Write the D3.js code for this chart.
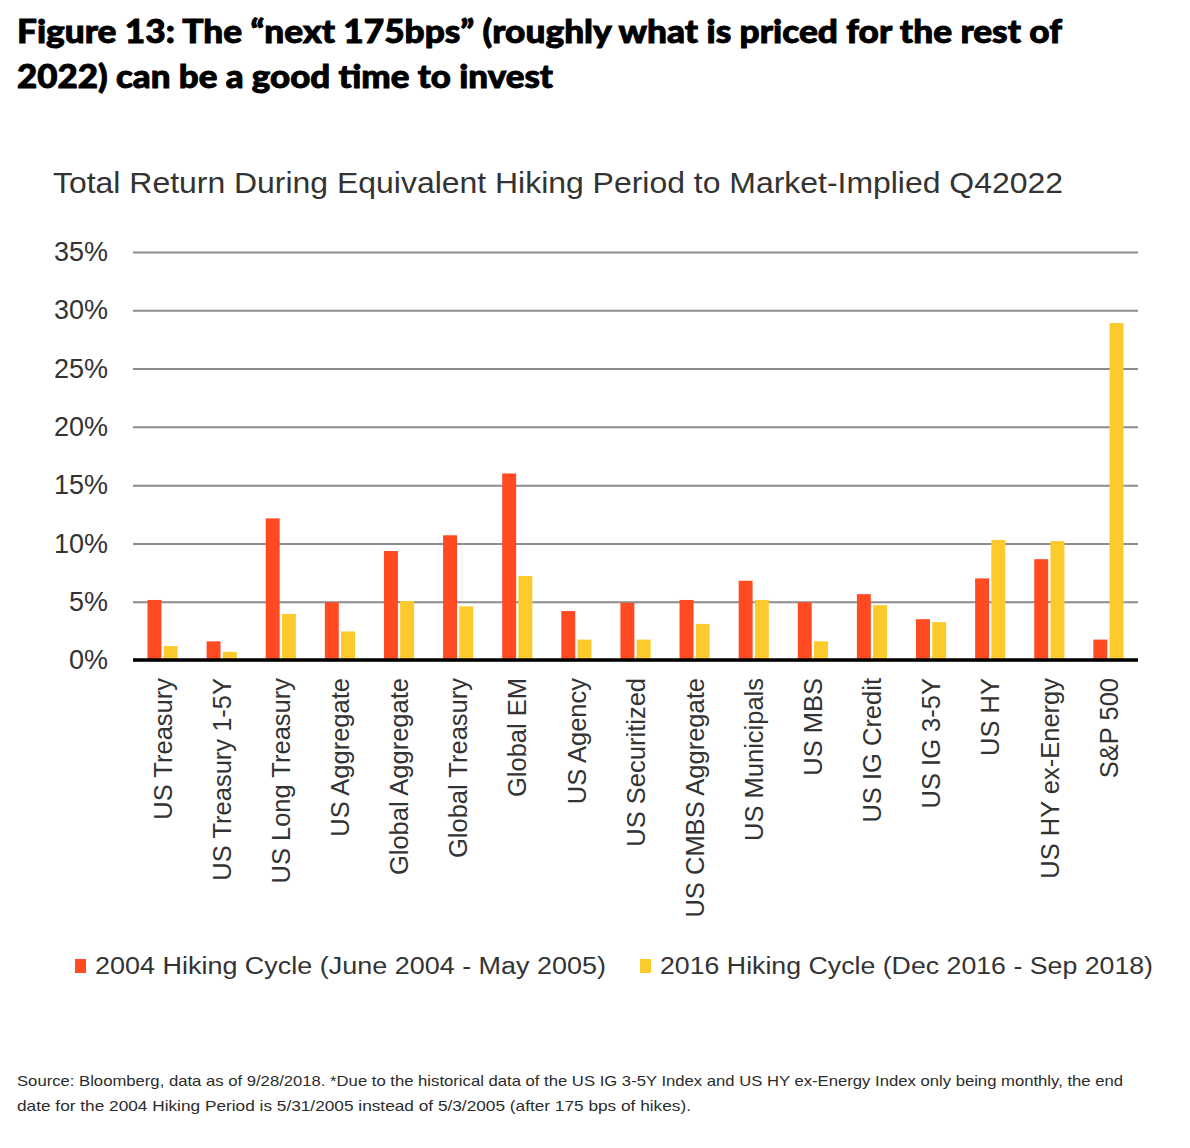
<!DOCTYPE html>
<html>
<head>
<meta charset="utf-8">
<script src="https://cdn.jsdelivr.net/npm/d3@7"></script>
<style>
  body { margin: 0; background: #fff; }
  svg { display: block; }
</style>
</head>
<body>
<svg id="chart" width="1190" height="1148"></svg>
<script>
const categories = ["US Treasury", "US Treasury 1-5Y", "US Long Treasury", "US Aggregate",
    "Global Aggregate", "Global Treasury", "Global EM", "US Agency", "US Securitized",
    "US CMBS Aggregate", "US Municipals", "US MBS", "US IG Credit", "US IG 3-5Y",
    "US HY", "US HY ex-Energy", "S&P 500"];
const cycle2004 = [5.15, 1.6, 12.15, 4.95, 9.35, 10.7, 16.0, 4.2, 4.9, 5.15, 6.8, 4.95, 5.65, 3.5, 7.0, 8.65, 1.75];
const cycle2016 = [1.2, 0.7, 3.95, 2.45, 5.05, 4.6, 7.2, 1.75, 1.75, 3.1, 5.15, 1.6, 4.7, 3.25, 10.3, 10.2, 28.9];
const seriesNames = ["2004 Hiking Cycle (June 2004 - May 2005)", "2016 Hiking Cycle (Dec 2016 - Sep 2018)"];
const seriesColors = ["#ff4a22", "#fcca2c"];
const yTicks = [0, 5, 10, 15, 20, 25, 30, 35];

const svg = d3.select("#chart");
const textColor = "#2b2b2b";

// heading
const heading = ["Figure 13: The \u201cnext 175bps\u201d (roughly what is priced for the rest of",
    "2022) can be a good time to invest"];
const headingW = [1045, 536];
svg.selectAll(".heading")
    .data(heading)
    .enter().append("text")
    .attr("class", "heading")
    .attr("x", 17)
    .attr("y", (d, i) => 43 + i * 45)
    .attr("textLength", (d, i) => headingW[i])
    .attr("lengthAdjust", "spacingAndGlyphs")
    .style("font-family", "'Lato Black', Lato, sans-serif")
    .style("font-weight", 900)
    .style("font-size", "32px")
    .style("fill", "#000")
    .style("stroke", "#000")
    .style("stroke-width", 0.9)
    .text(d => d);

// chart title
svg.append("text")
    .attr("x", 53)
    .attr("y", 193)
    .attr("textLength", 1010)
    .attr("lengthAdjust", "spacingAndGlyphs")
    .style("font-family", "'Liberation Sans', Arial, sans-serif")
    .style("font-size", "30px")
    .style("fill", "#333")
    .text("Total Return During Equivalent Hiking Period to Market-Implied Q42022");

const x0 = d3.scaleBand()
    .domain(categories)
    .range([133, 1138])
    .paddingInner(0.49)
    .paddingOuter(0.245);

const x1 = d3.scaleBand()
    .domain([0, 1])
    .range([0, x0.bandwidth()])
    .paddingInner(0.14);

const y = d3.scaleLinear()
    .domain([0, 35])
    .range([660, 252]);

// grid
const yAxis = d3.axisLeft(y)
    .tickValues(yTicks)
    .tickSize(-(1138 - 133))
    .tickPadding(24)
    .tickFormat(d => d + "%");

const gy = svg.append("g")
    .attr("transform", "translate(133,0)")
    .call(yAxis);
gy.select(".domain").remove();
gy.selectAll(".tick line")
    .attr("stroke", "#8c8c8c")
    .attr("stroke-width", 2);
gy.selectAll(".tick text")
    .attr("x", -25)
    .style("font-family", "'Liberation Sans', Arial, sans-serif")
    .style("font-size", "27px")
    .style("fill", "#333");

// bars
const groups = svg.append("g")
    .selectAll("g")
    .data(categories)
    .enter().append("g")
    .attr("transform", d => `translate(${x0(d)},0)`);

groups.selectAll("rect")
    .data((d, i) => [cycle2004[i], cycle2016[i]])
    .enter().append("rect")
    .attr("x", (d, j) => x1(j))
    .attr("width", x1.bandwidth())
    .attr("y", d => y(d))
    .attr("height", d => y(0) - y(d))
    .attr("fill", (d, j) => seriesColors[j]);

// baseline
svg.append("line")
    .attr("x1", 133)
    .attr("x2", 1138)
    .attr("y1", y(0))
    .attr("y2", y(0))
    .attr("stroke", "#000")
    .attr("stroke-width", 3.5);

// category labels
svg.append("g")
    .selectAll("text")
    .data(categories)
    .enter().append("text")
    .attr("transform", d => `translate(${x0(d) + x0.bandwidth() / 2},678) rotate(-90)`)
    .attr("dy", "0.36em")
    .attr("text-anchor", "end")
    .style("font-family", "'Liberation Sans', Arial, sans-serif")
    .style("font-size", "25.5px")
    .style("fill", "#333")
    .text(d => d);

// legend
const legendX = [75, 640];
const legendW = [511, 493];
const legend = svg.append("g")
    .selectAll("g")
    .data(seriesNames)
    .enter().append("g")
    .attr("transform", (d, i) => `translate(${legendX[i]},0)`);

legend.append("rect")
    .attr("x", 0)
    .attr("y", 959)
    .attr("width", 11)
    .attr("height", 14)
    .attr("fill", (d, i) => seriesColors[i]);

legend.append("text")
    .attr("x", 20)
    .attr("y", 974)
    .attr("textLength", (d, i) => legendW[i])
    .attr("lengthAdjust", "spacingAndGlyphs")
    .style("font-family", "'Liberation Sans', Arial, sans-serif")
    .style("font-size", "23px")
    .style("fill", "#333")
    .text(d => d);

// footer
const footer = [
    "Source: Bloomberg, data as of 9/28/2018. *Due to the historical data of the US IG 3-5Y Index and US HY ex-Energy Index only being monthly, the end",
    "date for the 2004 Hiking Period is 5/31/2005 instead of 5/3/2005 (after 175 bps of hikes)."
];
const footerW = [1106, 674];
svg.selectAll(".footer")
    .data(footer)
    .enter().append("text")
    .attr("class", "footer")
    .attr("x", 17)
    .attr("y", (d, i) => 1086 + i * 25)
    .attr("textLength", (d, i) => footerW[i])
    .attr("lengthAdjust", "spacingAndGlyphs")
    .style("font-family", "'Liberation Sans', Arial, sans-serif")
    .style("font-size", "15px")
    .style("fill", textColor)
    .text(d => d);
</script>
</body>
</html>
